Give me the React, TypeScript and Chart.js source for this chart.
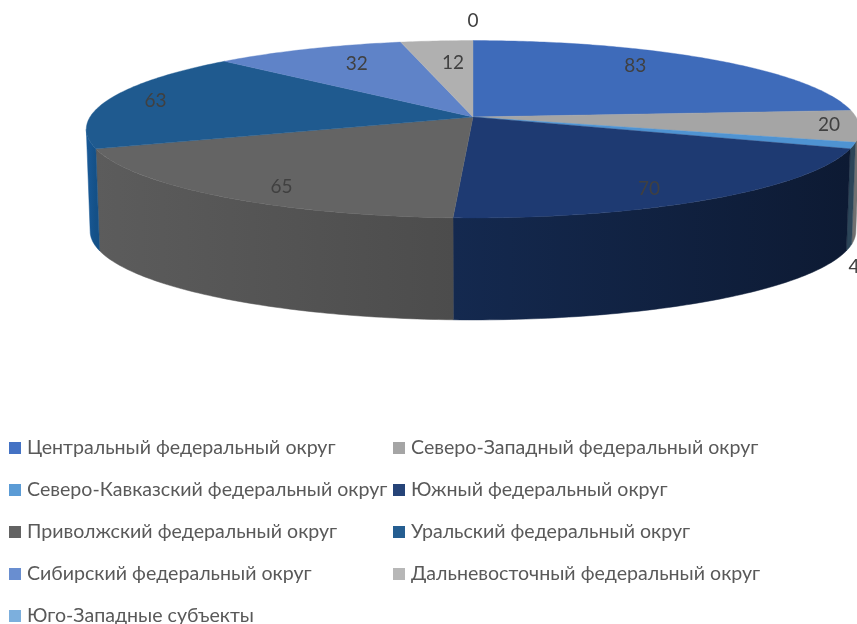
import React, { useEffect, useRef } from "react";
import { Chart, registerables } from "chart.js";

Chart.register(...registerables);

const districts = [
  "Центральный федеральный округ",
  "Северо-Западный федеральный округ",
  "Северо-Кавказский федеральный округ",
  "Южный федеральный округ",
  "Приволжский федеральный округ",
  "Уральский федеральный округ",
  "Сибирский федеральный округ",
  "Дальневосточный федеральный округ",
  "Юго-Западные субъекты",
];
const counts = [83, 20, 4, 70, 65, 63, 32, 12, 0];
const topColors = ["#3e6bba", "#a5a5a5", "#4f93d2", "#1e3a72", "#646464", "#1f5a8f", "#5f83c8", "#b0b0b0", "#7fb0de"];
const legendColors = ["#4472c4", "#a5a5a5", "#5b9bd5", "#264478", "#636363", "#255e91", "#698ed0", "#b7b7b7", "#7cafdd"];
const wallLeft = ["#2c4a80", "#707070", "#2c4558", "#14294f", "#5c5c5c", "#195a98", "#3d5a8c", "#7a7a7a", "#557a9c"];
const wallRight = ["#2c4a80", "#707070", "#2c4558", "#0d1a33", "#4c4c4c", "#145087", "#3d5a8c", "#7a7a7a", "#557a9c"];

const FONT = "Lato, 'Noto Sans', sans-serif";

// Perspective projection of the unit disc
const CX = 473, TOP_Y = 117, BOTTOM_Y = 219, AX = 383, AY = 87, K = -0.138, BOTTOM_SCALE = 0.99;
const project = (u: number, v: number, bottom: boolean): [number, number] => {
  const w = 1 + K * v;
  const s = bottom ? BOTTOM_SCALE : 1;
  return [CX + (AX * s * u) / w, (bottom ? BOTTOM_Y : TOP_Y) + (AY * v) / w];
};
const rim = (theta: number, bottom: boolean, r = 1) => project(r * Math.sin(theta), -r * Math.cos(theta), bottom);

// Value labels: radial placement on the disc, then a nudge in pixels
const labelRadii = [0.67, 0.93, 1.0, 0.66, 0.52, 0.83, 0.75, 0.72, 1.0];
const labelNudge: [number, number][] = [
  [-1, -11], [-3, -1], [1, 121], [25, 20], [-67, 31], [-14, -1], [11, -1], [7, 3], [0, -20],
];

const pie3d = {
  id: "pie3d",
  beforeDatasetsDraw(chart: any) {
    const { ctx } = chart;
    const arcs = chart.getDatasetMeta(0).data;
    const visFrom = Math.acos(K);
    const visTo = 2 * Math.PI - visFrom;
    ctx.save();
    arcs.forEach((arc: any, i: number) => {
      const a0 = Math.max(arc.startAngle + Math.PI / 2, visFrom);
      const a1 = Math.min(arc.endAngle + Math.PI / 2, visTo);
      if (a1 <= a0) return;
      const n = Math.max(2, Math.ceil((a1 - a0) * 60));
      const g = ctx.createLinearGradient(rim(a1, false)[0], 0, rim(a0, false)[0], 0);
      g.addColorStop(0, wallLeft[i]);
      g.addColorStop(1, wallRight[i]);
      ctx.beginPath();
      for (let k = 0; k <= n; k++) {
        const p = rim(a0 + ((a1 - a0) * k) / n, false);
        k ? ctx.lineTo(p[0], p[1]) : ctx.moveTo(p[0], p[1]);
      }
      for (let k = n; k >= 0; k--) {
        const p = rim(a0 + ((a1 - a0) * k) / n, true);
        ctx.lineTo(p[0], p[1]);
      }
      ctx.closePath();
      ctx.fillStyle = g;
      ctx.strokeStyle = g;
      ctx.lineWidth = 0.5;
      ctx.fill();
      ctx.stroke();
    });
    arcs.forEach((arc: any, i: number) => {
      const a0 = arc.startAngle + Math.PI / 2;
      const a1 = arc.endAngle + Math.PI / 2;
      if (a1 - a0 <= 0) return;
      const n = Math.max(2, Math.ceil((a1 - a0) * 80));
      const c = project(0, 0, false);
      ctx.beginPath();
      ctx.moveTo(c[0], c[1]);
      for (let k = 0; k <= n; k++) {
        const p = rim(a0 + ((a1 - a0) * k) / n, false);
        ctx.lineTo(p[0], p[1]);
      }
      ctx.closePath();
      ctx.fillStyle = topColors[i];
      ctx.strokeStyle = topColors[i];
      ctx.lineWidth = 0.4;
      ctx.fill();
      ctx.stroke();
    });
    ctx.restore();
    return false;
  },
  afterDraw(chart: any) {
    const { ctx } = chart;
    const arcs = chart.getDatasetMeta(0).data;
    ctx.save();
    ctx.font = `19px ${FONT}`;
    ctx.fillStyle = "#404040";
    ctx.textAlign = "center";
    ctx.textBaseline = "middle";
    arcs.forEach((arc: any, i: number) => {
      const mid = (arc.startAngle + arc.endAngle) / 2 + Math.PI / 2;
      const p = rim(mid, false, labelRadii[i]);
      ctx.fillText(String(counts[i]), p[0] + labelNudge[i][0], p[1] + labelNudge[i][1]);
    });
    // legend, two columns filled row by row
    ctx.font = `19.6px ${FONT}`;
    ctx.textAlign = "left";
    chart.data.labels.forEach((label: string, i: number) => {
      const col = i % 2;
      const row = Math.floor(i / 2);
      const x = col ? 393 : 9;
      const y = 448 + row * 42;
      ctx.fillStyle = legendColors[i];
      ctx.fillRect(x, y - 6, 12, 12);
      ctx.fillStyle = "#595959";
      ctx.fillText(label, x + 18, y);
    });
    ctx.restore();
  },
};

export default function App() {
  const ref = useRef<HTMLCanvasElement>(null);
  useEffect(() => {
    const chart = new Chart(ref.current!, {
      type: "pie",
      data: {
        labels: districts,
        datasets: [{ data: counts, backgroundColor: topColors, borderWidth: 0 }],
      },
      options: {
        responsive: false,
        animation: false,
        plugins: { legend: { display: false }, tooltip: { enabled: false } },
      },
      plugins: [pie3d],
    } as any);
    return () => chart.destroy();
  }, []);
  return (
    <canvas
      ref={ref}
      width={857}
      height={624}
      style={{ position: "absolute", left: 0, top: 0, width: 857, height: 624, background: "#fff" }}
    />
  );
}
